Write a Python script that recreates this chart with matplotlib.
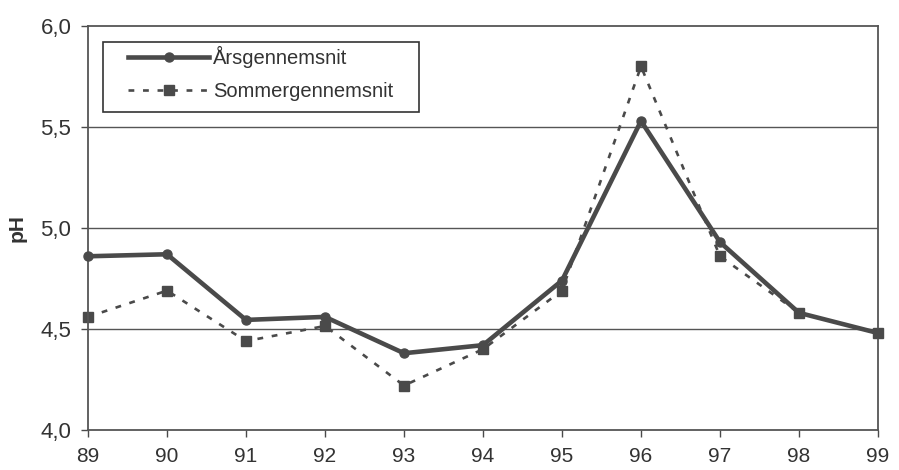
import matplotlib
matplotlib.use("Agg")
import matplotlib.pyplot as plt
from matplotlib.patches import Rectangle

years = ["89", "90", "91", "92", "93", "94", "95", "96", "97", "98", "99"]
aarsgennemsnit = [4.86, 4.87, 4.545, 4.56, 4.38, 4.42, 4.74, 5.53, 4.93, 4.58, 4.48]
sommergennemsnit = [4.56, 4.69, 4.44, 4.515, 4.22, 4.40, 4.69, 5.80, 4.86, 4.58, 4.48]
yticks = [4.0, 4.5, 5.0, 5.5, 6.0]
ytick_labels = ["4,0", "4,5", "5,0", "5,5", "6,0"]

plt.rcParams['font.family'] = ['Liberation Sans', 'DejaVu Sans']
col = "#4a4a4a"
tcol = "#333333"

fig = plt.figure(figsize=(8.99, 4.70), dpi=100)
ax = fig.add_axes([88 / 899, 40 / 470, 790 / 899, 404 / 470])
x = list(range(len(years)))

for y in yticks[1:-1]:
    ax.axhline(y, color="#555555", lw=1.0, zorder=1)

ax.plot(x, aarsgennemsnit, color=col, lw=3.3, marker="o", ms=6.5,
        label="Årsgennemsnit", zorder=3, clip_on=False)
ax.plot(x, sommergennemsnit, color=col, lw=1.9, ls=(0, (2.2, 3.3)), marker="s", ms=7,
        label="Sommergennemsnit", zorder=2, clip_on=False)

ax.set_xlim(0, len(years) - 1)
ax.set_ylim(4.0, 6.0)
ax.set_xticks(x)
ax.set_xticklabels(years, fontsize=15, color=tcol)
ax.set_yticks(yticks)
ax.set_yticklabels(ytick_labels, fontsize=16, color=tcol)
ax.tick_params(axis="both", direction="out", length=5, color=col, width=1)
ax.tick_params(axis="x", pad=7)
ax.tick_params(axis="y", pad=7)
for s in ax.spines.values():
    s.set_color("#555555")
    s.set_linewidth(1.3)
ax.set_ylabel("pH", fontsize=15, fontweight="bold", color=tcol, labelpad=10)

# legend frame
ax.add_patch(Rectangle((0.019, 0.787), 0.400, 0.173, transform=ax.transAxes,
                       facecolor="white", edgecolor="#333333", lw=1.2, zorder=4))
leg = ax.legend(loc="upper left", bbox_to_anchor=(0.051, 0.950), fontsize=14.5,
                frameon=False, handlelength=4.0, borderpad=0,
                labelspacing=0.7, handletextpad=0.2, borderaxespad=0)
leg.set_zorder(5)
for t in leg.get_texts():
    t.set_color(tcol)

fig.savefig("out.png", dpi=100)
